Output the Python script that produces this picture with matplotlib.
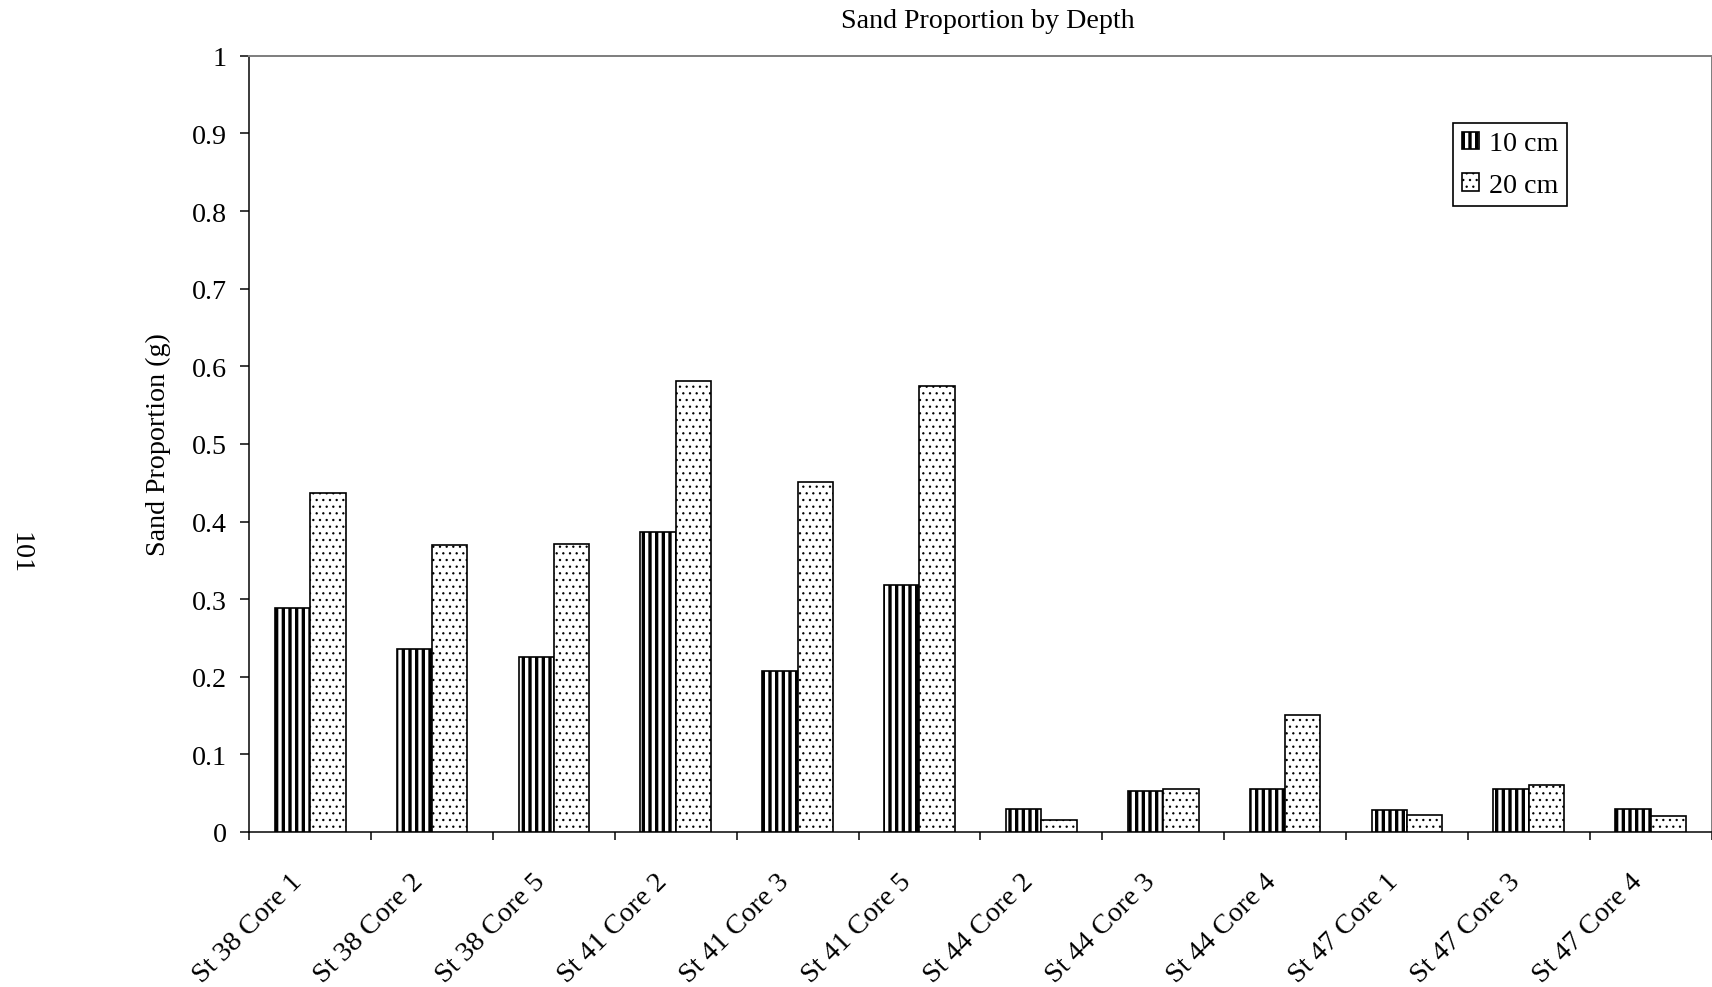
import numpy as np
import matplotlib
matplotlib.use("Agg")
import matplotlib.pyplot as plt
from matplotlib.transforms import ScaledTranslation, blended_transform_factory

categories = ["St 38 Core 1", "St 38 Core 2", "St 38 Core 5", "St 41 Core 2",
              "St 41 Core 3", "St 41 Core 5", "St 44 Core 2", "St 44 Core 3",
              "St 44 Core 4", "St 47 Core 1", "St 47 Core 3", "St 47 Core 4"]
sand_10cm = [0.289, 0.236, 0.225, 0.387, 0.207, 0.318, 0.030, 0.053, 0.055, 0.028, 0.056, 0.030]
sand_20cm = [0.437, 0.370, 0.371, 0.581, 0.451, 0.574, 0.016, 0.055, 0.151, 0.022, 0.060, 0.021]
series_labels = ["10 cm", "20 cm"]
yticks = [0, 0.1, 0.2, 0.3, 0.4, 0.5, 0.6, 0.7, 0.8, 0.9, 1]
ytick_labels = ["0", "0.1", "0.2", "0.3", "0.4", "0.5", "0.6", "0.7", "0.8", "0.9", "1"]
title = "Sand Proportion by Depth"
ylabel = "Sand Proportion (g)"
page_number = "101"

DPI = 120
W, H = 1712, 988
FS = 16.8
FS_X = 17.0
FONT = "Liberation Serif"
plt.rcParams['font.family'] = [FONT, 'DejaVu Serif']
plt.rcParams['font.size'] = FS

fig = plt.figure(figsize=(W / DPI, H / DPI), dpi=DPI)
fig.patch.set_facecolor('white')

left_px, right_px, top_px, bottom_px = 249.3, 1711.5, 56.8, 833.0
ax = fig.add_axes([left_px / W, 1 - bottom_px / H, (right_px - left_px) / W, (bottom_px - top_px) / H])

x = np.arange(len(categories))
bw = 0.29
b1 = ax.bar(x - bw / 2, sand_10cm, width=bw, facecolor='white', edgecolor='black',
            linewidth=1.0, hatch='|||', label=series_labels[0], zorder=3)
b2 = ax.bar(x + bw / 2, sand_20cm, width=bw, facecolor='white', edgecolor='black',
            linewidth=1.0, hatch='...', label=series_labels[1], zorder=3)
for p in b1:
    if hasattr(p, 'set_hatch_linewidth'):
        p.set_hatch_linewidth(2.0)
for p in b2:
    if hasattr(p, 'set_hatch_linewidth'):
        p.set_hatch_linewidth(0.6)

ax.set_xlim(-0.5, len(categories) - 0.5)
ax.set_ylim(0, 1)
ax.set_yticks(yticks)
ax.set_yticklabels(ytick_labels, fontsize=FS, fontfamily=FONT)
ax.tick_params(axis='y', direction='out', length=5.6, width=0.9, pad=8, color='black')

# x ticks at category boundaries, labels drawn as rotated texts at category centres
ax.set_xticks(np.arange(len(categories) + 1) - 0.5)
ax.set_xticklabels([])
ax.tick_params(axis='x', direction='out', length=5, width=0.9, color='black')
label_tr = blended_transform_factory(ax.transData, ax.transAxes) + \
    ScaledTranslation(-7.6 / DPI, -49.8 / DPI, fig.dpi_scale_trans)
for i, name in enumerate(categories):
    ax.text(x[i], 0, name, transform=label_tr, rotation=45, ha='right', va='baseline',
            rotation_mode='anchor', fontsize=FS_X, fontfamily=FONT, clip_on=False)

for s in ['left', 'bottom']:
    ax.spines[s].set_color('black')
    ax.spines[s].set_linewidth(0.9)
for s in ['top', 'right']:
    ax.spines[s].set_color('#808080')
    ax.spines[s].set_linewidth(1.2)

leg = ax.legend(loc='upper right',
                bbox_to_anchor=((1567 - left_px) / (right_px - left_px), (bottom_px - 124) / (bottom_px - top_px)),
                borderaxespad=0, fancybox=False, framealpha=1, edgecolor='black',
                handlelength=0.64, handleheight=0.6, handletextpad=0.35,
                borderpad=0.3, labelspacing=0.58,
                prop={'family': FONT, 'size': FS})
leg.get_frame().set_linewidth(1.0)
handles = getattr(leg, 'legend_handles', None) or getattr(leg, 'legendHandles', [])
for h, lw in zip(handles, [2.0, 0.6]):
    if hasattr(h, 'set_hatch_linewidth'):
        h.set_hatch_linewidth(lw)

fig.text(988 / W, 1 - 22 / H, title, ha='center', va='center', fontsize=FS, fontfamily=FONT)
fig.text(158 / W, 1 - 445 / H, ylabel, ha='center', va='center', rotation=90, fontsize=FS, fontfamily=FONT)
fig.text(20 / W, 1 - 553 / H, page_number, ha='center', va='center', rotation=-90, fontsize=FS, fontfamily=FONT)

fig.savefig('out.png', dpi=DPI, facecolor='white')
